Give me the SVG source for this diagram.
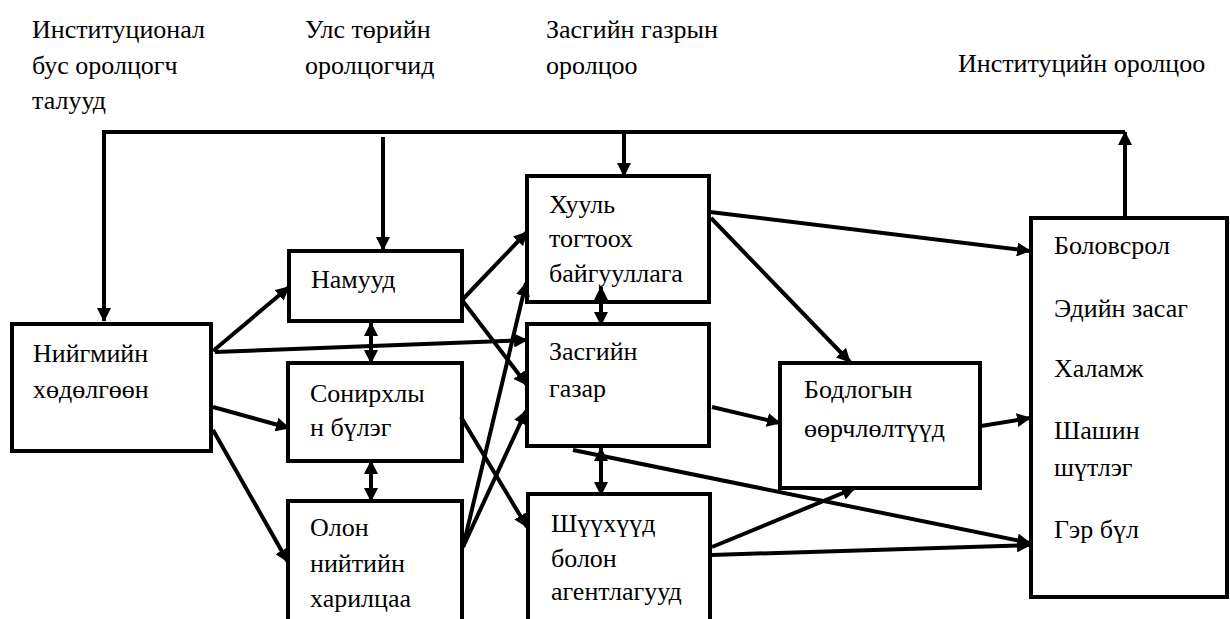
<svg xmlns="http://www.w3.org/2000/svg" width="1230" height="619" viewBox="0 0 1230 619" font-family="Liberation Serif, Times New Roman, DejaVu Serif, serif">
<style>
.box{fill:#fff;stroke:#000;stroke-width:4}
.t{font-family:'Liberation Serif','Times New Roman','DejaVu Serif',serif;font-size:26px;fill:#000}
.c{fill:none;stroke:#000;stroke-width:4}
</style>
<defs>
<marker id="ah" viewBox="0 0 14 14" refX="13" refY="7" markerWidth="14" markerHeight="14" markerUnits="userSpaceOnUse" orient="auto-start-reverse">
<path d="M0,0 L14,7 L0,14 z" fill="#000"/>
</marker>
</defs>
<rect width="1230" height="619" fill="#fff"/>
<g id="labels">
<text class="t" x="32" y="38">Институционал</text>
<text class="t" x="32" y="74">бус оролцогч</text>
<text class="t" x="32" y="109">талууд</text>
<text class="t" x="305" y="38">Улс төрийн</text>
<text class="t" x="305" y="74">оролцогчид</text>
<text class="t" x="546" y="38">Засгийн газрын</text>
<text class="t" x="546" y="74">оролцоо</text>
<text class="t" x="958" y="72">Институцийн оролцоо</text>
</g>
<g id="node-niigmiin">
<rect class="box" x="12" y="324" width="199" height="127"/>
<text class="t" x="33" y="362">Нийгмийн</text>
<text class="t" x="33" y="398">хөдөлгөөн</text>
</g>
<g id="node-namuud">
<rect class="box" x="289" y="251" width="173" height="70"/>
<text class="t" x="311" y="288">Намууд</text>
</g>
<g id="node-sonirkhly">
<rect class="box" x="288" y="363" width="174" height="98"/>
<text class="t" x="310" y="402">Сонирхлы</text>
<text class="t" x="310" y="436">н бүлэг</text>
</g>
<g id="node-olon">
<rect class="box" x="288" y="501" width="174" height="140"/>
<text class="t" x="310" y="536">Олон</text>
<text class="t" x="310" y="572">нийтийн</text>
<text class="t" x="310" y="607">харилцаа</text>
</g>
<g id="node-khuul">
<rect class="box" x="527" y="176" width="182" height="126"/>
<text class="t" x="549" y="213">Хууль</text>
<text class="t" x="549" y="247">тогтоох</text>
<text class="t" x="549" y="282">байгууллага</text>
</g>
<g id="node-zasgiin">
<rect class="box" x="527" y="324" width="182" height="122"/>
<text class="t" x="549" y="360">Засгийн</text>
<text class="t" x="549" y="397">газар</text>
</g>
<g id="node-shuukh">
<rect class="box" x="528" y="494" width="182" height="147"/>
<text class="t" x="551" y="532">Шүүхүүд</text>
<text class="t" x="551" y="567">болон</text>
<text class="t" x="551" y="600">агентлагууд</text>
</g>
<g id="node-bodlogo">
<rect class="box" x="780" y="363" width="200" height="125"/>
<text class="t" x="804" y="398">Бодлогын</text>
<text class="t" x="804" y="437">өөрчлөлтүүд</text>
</g>
<g id="node-right">
<rect class="box" x="1031" y="218" width="196" height="379"/>
<text class="t" x="1054" y="254">Боловсрол</text>
<text class="t" x="1054" y="317">Эдийн засаг</text>
<text class="t" x="1054" y="377">Халамж</text>
<text class="t" x="1054" y="439">Шашин</text>
<text class="t" x="1054" y="476">шүтлэг</text>
<text class="t" x="1054" y="538">Гэр бүл</text>
</g>
<g id="connectors" class="c" marker-end="url(#ah)">
<path d="M1125,132 H104 V321"/>
<path d="M383,137 V250"/>
<path d="M624,132 V176"/>
<path d="M1125,218 V132"/>
<path d="M213,351 L289,287"/>
<path d="M215,352 L527,340"/>
<path d="M213,407 L289,428"/>
<path d="M213,430 L288,562"/>
<path d="M462,300 L527,232"/>
<path d="M462,300 L527,385"/>
<path d="M461,417 L527,527"/>
<path d="M463,547 L526,283"/>
<path d="M463,547 L526,411"/>
<path d="M710,212 L1030,251"/>
<path d="M711,218 L850,362"/>
<path d="M712,407 L780,423"/>
<path d="M573,450 L1030,543"/>
<path d="M712,547 L855,488"/>
<path d="M712,555 L1030,545"/>
<path d="M981,426 L1030,418"/>
<path d="M601,287 V325" marker-start="url(#ah)"/>
<path d="M371,323 V363" marker-start="url(#ah)"/>
<path d="M371,461 V501" marker-start="url(#ah)"/>
<path d="M601,448 V495" marker-start="url(#ah)"/>
</g>
</svg>
